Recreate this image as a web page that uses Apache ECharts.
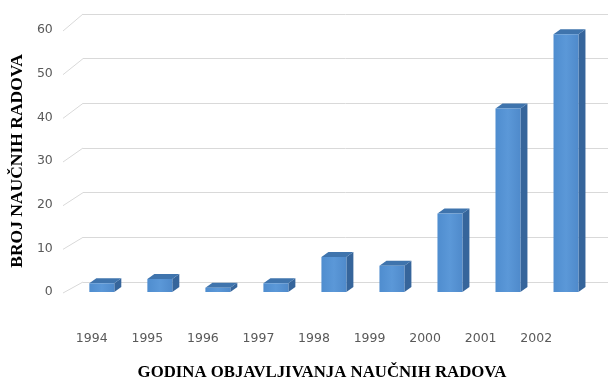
<!DOCTYPE html>
<html>
<head>
<meta charset="utf-8">
<script src="https://cdn.jsdelivr.net/npm/echarts@6/dist/echarts.min.js"></script>
<style>
  html, body { margin: 0; padding: 0; background: #fff; }
  #chart { width: 608px; height: 382px; }
</style>
</head>
<body>
<div id="chart"></div>
<script>
  // godine i broj radova
  var years = ['1994', '1995', '1996', '1997', '1998', '1999', '2000', '2001', '2002']
  var papers = [2, 3, 1, 2, 8, 6, 18, 42, 59]
  var yTicks = [0, 10, 20, 30, 40, 50, 60]

  var dom = document.getElementById('chart')
  var myChart = echarts.init(dom)

  var DX = 7, DY = -5   // dubina stubica

  function renderBar(params, api) {
    var i = api.value(0)
    var base = api.coord([i, 0])
    var top = api.coord([i, api.value(1)])
    var w = api.size([1, 0])[0] * 0.43
    var x1 = base[0] - w / 2
    var x2 = base[0] + w / 2
    var yb = base[1], yt = top[1]
    return {
      type: 'group',
      children: [
        { type: 'polygon', shape: { points: [[x2, yt], [x2 + DX, yt + DY], [x2 + DX, yb + DY], [x2, yb]] },
          style: { fill: '#36659b' } },
        { type: 'polygon', shape: { points: [[x1, yt], [x1 + DX, yt + DY], [x2 + DX, yt + DY], [x2, yt]] },
          style: { fill: '#3f74ad' } },
        { type: 'rect', shape: { x: x1, y: yt, width: w, height: yb - yt },
          style: { fill: new echarts.graphic.LinearGradient(0, 0, 1, 0, [
            { offset: 0, color: '#4f8dcf' }, { offset: 0.5, color: '#5b98d8' }, { offset: 1, color: '#4f8acb' }]) } }
      ]
    }
  }

  var option = {
    animation: false,
    grid: [
      { left: 83, right: 0, top: 14, bottom: 100 },      // zadnji zid
      { left: 70, right: 13, top: 30, bottom: 90 },      // stubici
      { left: 64, right: 44, top: 320, bottom: 47 }      // natpisi godina
    ],
    xAxis: [
      { gridIndex: 0, type: 'category', data: years, show: false },
      { gridIndex: 1, type: 'category', data: years, show: false },
      {
        gridIndex: 2, type: 'category', data: years,
        axisLine: { show: false }, axisTick: { show: false },
        axisLabel: { color: '#595959', fontSize: 12.5, fontFamily: 'DejaVu Sans', margin: 4 },
        name: 'GODINA OBJAVLJIVANJA NAUČNIH RADOVA',
        nameLocation: 'middle', nameGap: 36,
        nameTextStyle: { color: '#000', fontSize: 16.8, fontWeight: 'bold', fontFamily: 'Liberation Serif',
          padding: [0, 0, 0, 16] }
      }
    ],
    yAxis: [
      {
        gridIndex: 0, type: 'value', min: 0, max: 60, interval: 10,
        axisLine: { show: false }, axisTick: { show: false }, axisLabel: { show: false },
        splitLine: { lineStyle: { color: '#d9d9d9', width: 1 } }
      },
      {
        gridIndex: 1, type: 'value', min: 0, max: 60, interval: 10,
        axisLine: { show: false }, axisTick: { show: false }, splitLine: { show: false },
        axisLabel: { color: '#595959', fontSize: 12.5, fontFamily: 'DejaVu Sans', margin: 20 },
        name: 'BROJ NAUČNIH RADOVA',
        nameLocation: 'middle', nameGap: 40,
        nameTextStyle: { color: '#000', fontSize: 17.5, fontWeight: 'bold', fontFamily: 'Liberation Serif' }
      },
      { gridIndex: 2, type: 'value', show: false }
    ],
    series: [
      {
        type: 'custom',
        xAxisIndex: 1, yAxisIndex: 1,
        renderItem: renderBar,
        data: papers.map(function (v, i) { return [i, v] })
      }
    ]
  }
  myChart.setOption(option, true)

  // kose linije od natpisa do zadnjeg zida
  var lines = []
  for (var k = 0; k < yTicks.length; k++) {
    var yFront = myChart.convertToPixel({ yAxisIndex: 1 }, yTicks[k])
    var yBack = myChart.convertToPixel({ yAxisIndex: 0 }, yTicks[k])
    lines.push({
      type: 'line',
      shape: { x1: 63, y1: yFront + 1, x2: 83, y2: yBack },
      style: { stroke: '#d9d9d9', lineWidth: 1 },
      silent: true
    })
  }
  myChart.setOption({ graphic: lines })
</script>
</body>
</html>
